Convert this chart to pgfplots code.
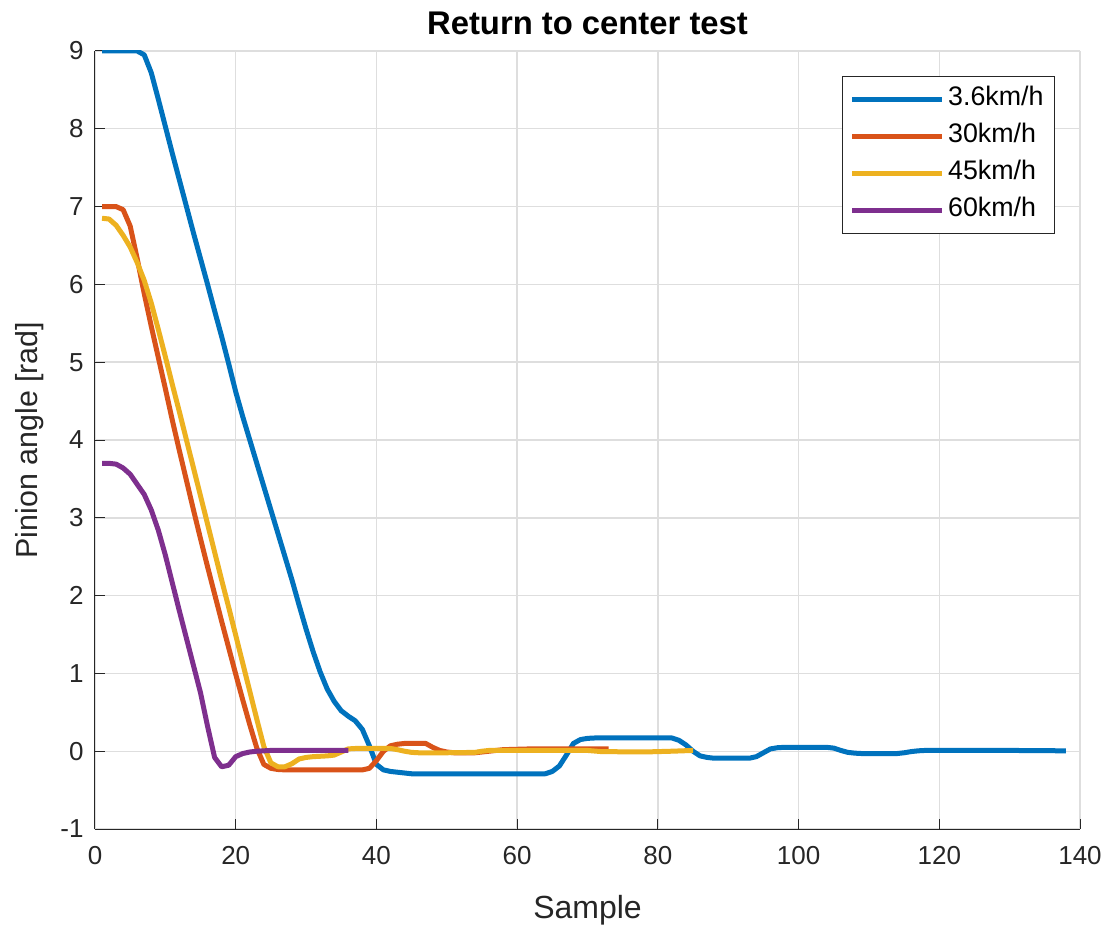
\documentclass[border=0pt]{standalone}
\usepackage{fontspec}
\setmainfont{Liberation Sans}
\usepackage{pgfplots}
\pgfplotsset{compat=1.18}
\definecolor{mblue}{rgb}{0,0.447,0.741}
\definecolor{morange}{rgb}{0.85,0.325,0.098}
\definecolor{myellow}{rgb}{0.929,0.694,0.125}
\definecolor{mpurple}{rgb}{0.494,0.184,0.556}
\definecolor{gridgray}{RGB}{222,222,222}
\definecolor{axgray}{rgb}{0.15,0.15,0.15}
\begin{document}
\begin{tikzpicture}
\begin{axis}[
  name=ax,
  scale only axis,
  width=492.5pt, height=389pt,
  xmin=0, xmax=140, ymin=-1, ymax=9,
  xtick={0,20,...,140}, ytick={-1,0,...,9},
  axis x line*=bottom, axis y line*=left,
  axis line style={axgray, line width=0.5pt},
  every tick/.style={axgray, line width=0.5pt},
  tick align=inside, major tick length=5pt,
  grid=major, major grid style={gridgray, line width=0.7pt},
  /pgf/number format/assume math mode=true,
  tick label style={font=\fontsize{13}{15}\selectfont, text=axgray},
  xticklabel style={yshift=-5pt},
  yticklabel style={xshift=-2.2pt},
  title={Return to center test},
  title style={at={(axis description cs:0.5,1.0206)}, anchor=base, yshift=-6pt, inner sep=0pt, font=\bfseries\fontsize{16.4}{19}\selectfont},
  xlabel={Sample},
  xlabel style={at={(axis description cs:0.5,-0.1144)}, anchor=base, inner sep=0pt, font=\fontsize{16}{19}\selectfont, text=axgray},
  ylabel={Pinion angle [rad]},
  ylabel style={at={(axis description cs:-0.0579,0.5)}, anchor=base, inner sep=0pt, font=\fontsize{15.2}{18}\selectfont, text=axgray},
  legend style={at={(0.9746,0.968)}, anchor=north east, draw=axgray, line width=0.5pt,
    inner xsep=3.75pt, inner ysep=3.5pt, row sep=2.5pt,
    nodes={inner sep=1.75pt, text height=9.5pt, text depth=3pt, anchor=west},
    font=\fontsize{13.4}{15}\selectfont},
  legend cell align=left,
  legend image code/.code={\draw[#1, line width=2.5pt] (0pt,0pt) -- (45pt,0pt);},
  every axis plot/.append style={line width=2.5pt, line join=round, line cap=butt},
]
\addplot[mblue] coordinates {
(1,9.0)(2,9.0)(3,9.0)(4,9.0)(5,9.0)(6,9.0)(7,8.95)(8,8.72)(9,8.38)(10,8.03)
(11,7.68)(12,7.34)(13,7.0)(14,6.66)(15,6.33)(16,6.0)(17,5.66)(18,5.33)(19,4.98)(20,4.62)
(21,4.3)(22,4.0)(23,3.7)(24,3.4)(25,3.1)(26,2.8)(27,2.5)(28,2.2)(29,1.88)(30,1.57)
(31,1.28)(32,1.02)(33,0.80)(34,0.64)(35,0.52)(36,0.45)(37,0.39)(38,0.28)(39,0.07)(40,-0.17)
(41,-0.24)(42,-0.26)(43,-0.27)(44,-0.28)(45,-0.29)(50,-0.29)(55,-0.29)(60,-0.29)(64,-0.29)
(65,-0.26)(66,-0.19)(67,-0.05)(68,0.10)(69,0.15)(70,0.165)(71,0.17)(76,0.17)(82,0.17)
(83,0.14)(84,0.08)(85,0.0)(86,-0.06)(87,-0.08)(88,-0.09)(93,-0.09)(94,-0.07)(95,-0.02)
(96,0.03)(97,0.045)(98,0.05)(104,0.05)(105,0.04)(106,0.01)(107,-0.015)(108,-0.025)(109,-0.03)
(114,-0.03)(115,-0.02)(116,-0.005)(117,0.005)(118,0.01)(125,0.01)(130,0.01)(138,0.005)
};
\addlegendentry{3.6km/h}
\addplot[morange] coordinates {
(1,7.0)(2,7.0)(3,7.0)(4,6.96)(5,6.75)(6,6.33)(7,5.88)(8,5.46)(9,5.06)(10,4.66)
(11,4.25)(12,3.86)(13,3.48)(14,3.1)(15,2.73)(16,2.37)(17,2.02)(18,1.67)(19,1.33)(20,0.99)
(21,0.66)(22,0.34)(23,0.04)(24,-0.17)(25,-0.22)(26,-0.235)(27,-0.24)(38,-0.24)(39,-0.22)(40,-0.12)
(41,0.0)(42,0.07)(43,0.09)(44,0.1)(47,0.1)(48,0.05)(49,0.01)(50,-0.01)(51,-0.02)(54,-0.02)
(55,-0.01)(56,0.0)(57,0.01)(58,0.02)(62,0.03)(73,0.03)
};
\addlegendentry{30km/h}
\addplot[myellow] coordinates {
(1,6.85)(2,6.84)(3,6.76)(4,6.63)(5,6.48)(6,6.28)(7,6.05)(8,5.76)(9,5.42)(10,5.07)
(11,4.71)(12,4.36)(13,4.0)(14,3.64)(15,3.28)(16,2.92)(17,2.56)(18,2.2)(19,1.85)(20,1.49)
(21,1.13)(22,0.77)(23,0.41)(24,0.06)(25,-0.15)(26,-0.2)(27,-0.2)(28,-0.16)(29,-0.1)(30,-0.08)
(31,-0.07)(32,-0.065)(33,-0.06)(34,-0.05)(35,-0.01)(36,0.03)(37,0.035)(42,0.035)(43,0.02)(44,0.0)
(45,-0.015)(46,-0.02)(50,-0.02)(54,-0.015)(55,0.0)(56,0.01)(70,0.01)(72,-0.005)(78,-0.01)(82,0.0)(85,0.01)
};
\addlegendentry{45km/h}
\addplot[mpurple] coordinates {
(1,3.70)(2,3.70)(3,3.69)(4,3.64)(5,3.56)(6,3.43)(7,3.30)(8,3.1)(9,2.84)(10,2.52)
(11,2.16)(12,1.8)(13,1.45)(14,1.1)(15,0.75)(16,0.32)(17,-0.08)(18,-0.2)(19,-0.18)(20,-0.07)
(21,-0.03)(22,-0.01)(23,0.0)(24,0.005)(25,0.01)(36,0.01)
};
\addlegendentry{60km/h}
\end{axis}
\path ([xshift=-47.5pt,yshift=-50pt]ax.south west) rectangle ([xshift=16pt,yshift=25.5pt]ax.north east);
\end{tikzpicture}
\end{document}
